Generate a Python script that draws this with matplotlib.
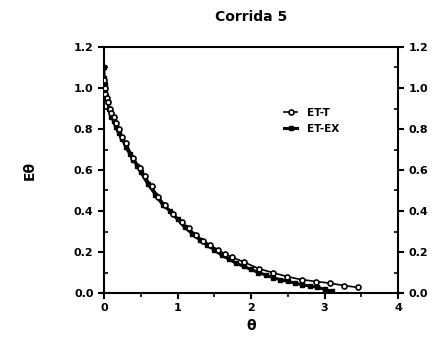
import matplotlib
matplotlib.use("Agg")
import matplotlib.pyplot as plt
from matplotlib.ticker import MultipleLocator

# ET-T data (open circles)
t_x = [0.0, 0.01, 0.02, 0.04, 0.06, 0.08, 0.10, 0.13, 0.16, 0.20, 0.25, 0.30,
       0.40, 0.49, 0.56, 0.65, 0.74, 0.83, 0.94, 1.06, 1.15, 1.25, 1.35, 1.44,
       1.55, 1.65, 1.74, 1.91, 2.11, 2.30, 2.49, 2.69, 2.89, 3.07, 3.27, 3.46]
t_y = [1.04, 1.00, 0.97, 0.95, 0.93, 0.90, 0.88, 0.86, 0.83, 0.80, 0.76, 0.73,
       0.66, 0.61, 0.57, 0.52, 0.47, 0.43, 0.385, 0.345, 0.315, 0.285, 0.255, 0.235,
       0.21, 0.19, 0.175, 0.15, 0.118, 0.099, 0.080, 0.065, 0.056, 0.048, 0.036, 0.027]

# ET-EX data (filled markers)
ex_x = [0.0, 0.0, 0.01, 0.02, 0.03, 0.05, 0.07, 0.10, 0.13, 0.16, 0.20, 0.25,
        0.30, 0.35, 0.40, 0.45, 0.50, 0.60, 0.70, 0.80, 0.90, 1.00, 1.10, 1.20,
        1.30, 1.40, 1.50, 1.60, 1.70, 1.80, 1.90, 2.00, 2.10, 2.20, 2.30, 2.40,
        2.50, 2.60, 2.70, 2.80, 2.90, 3.00, 3.10]
ex_y = [1.10, 1.05, 1.02, 0.99, 0.96, 0.93, 0.90, 0.86, 0.84, 0.81, 0.78, 0.75,
        0.71, 0.68, 0.65, 0.62, 0.59, 0.53, 0.48, 0.43, 0.40, 0.36, 0.32, 0.29,
        0.26, 0.235, 0.21, 0.185, 0.165, 0.145, 0.13, 0.115, 0.10, 0.088, 0.075, 0.065,
        0.057, 0.048, 0.040, 0.034, 0.028, 0.018, 0.008]

y_ticks = [0.0, 0.2, 0.4, 0.6, 0.8, 1.0, 1.2]
y_ticklabels = ["0.0", "0.2", "0.4", "0.6", "0.8", "1.0", "1.2"]

title = "Corrida 5"
xlabel = "θ"
ylabel = "Eθ"

fig = plt.figure(figsize=(4.36, 3.45), dpi=100)
ax = fig.add_axes([104/436, 1-293/345, (398-104)/436, (293-47)/345])

ax.plot(ex_x, ex_y, color="black", lw=2.2, marker="s", ms=2.2,
        mfc="black", mec="black", label="ET-EX", zorder=2)
ax.plot(t_x, t_y, color="black", lw=1.2, marker="o", ms=3.6,
        mfc="white", mec="black", mew=1.2, label="ET-T", zorder=3)

ax.set_xlim(0, 4)
ax.set_ylim(0, 1.2)
ax.xaxis.set_major_locator(MultipleLocator(1))
ax.xaxis.set_minor_locator(MultipleLocator(0.5))
ax.yaxis.set_minor_locator(MultipleLocator(0.1))
ax.set_yticks(y_ticks)
ax.set_yticklabels(y_ticklabels)

ax.tick_params(axis="x", which="major", direction="out", length=4, width=1.5,
               labelsize=8)
ax.tick_params(axis="x", which="minor", direction="out", length=3, width=1.2)
ax.tick_params(axis="y", which="major", direction="out", length=4, width=1.5,
               left=True, right=True, labelleft=True, labelright=True, labelsize=8)
ax.tick_params(axis="y", which="minor", direction="in", length=3, width=1.2,
               left=True, right=True)
for lab in ax.get_xticklabels():
    lab.set_fontweight("bold")
for t in ax.yaxis.get_major_ticks():
    t.label2.set_fontweight("bold")
    t.label1.set_fontweight("bold")

for s in ax.spines.values():
    s.set_linewidth(1.5)

ax.set_title(title, fontsize=10, fontweight="bold", pad=19)
ax.set_xlabel(xlabel, fontsize=10, fontweight="bold", labelpad=4)
ax.set_ylabel(ylabel, fontsize=10, fontweight="bold", labelpad=27)

handles, labels = ax.get_legend_handles_labels()
leg = ax.legend(handles[::-1], labels[::-1], loc="upper left",
                bbox_to_anchor=(0.58, 0.79), frameon=False,
                handlelength=1.3, handletextpad=0.9, labelspacing=0.55,
                prop={"weight": "bold", "size": 7.5})

fig.savefig("out.png", dpi=100)
